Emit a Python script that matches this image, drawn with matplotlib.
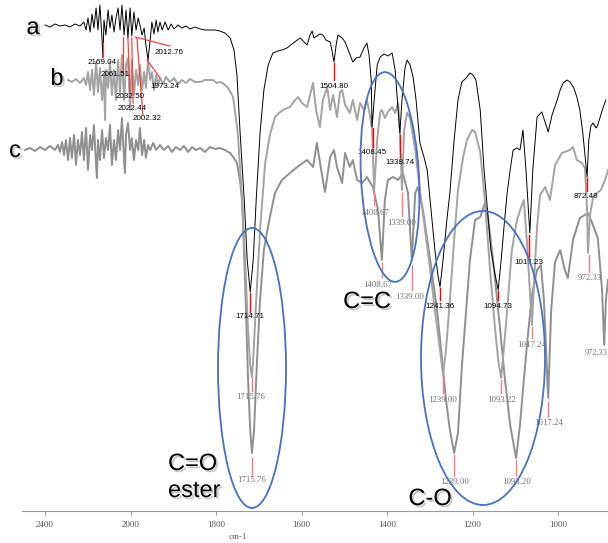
import numpy as np
import matplotlib
matplotlib.use("Agg")
import matplotlib.pyplot as plt
import matplotlib.patheffects as pe
from matplotlib.patches import Ellipse

# =========================
# DATA (wavenumber, depth below top of the plot)
# =========================
spec_a = [
    (2400, 25), (2377, 27), (2353, 24), (2330, 26), (2306, 25), (2283, 27), (2260, 24), (2236, 26),
    (2218, 22), (2208, 30), (2199, 18), (2189, 32), (2180, 14), (2171, 28), (2161, 8), (2152, 30),
    (2143, 5), (2133, 40), (2129, 58), (2124, 20), (2115, 35), (2105, 10), (2096, 28), (2087, 15),
    (2077, 32), (2068, 18), (2058, 8), (2049, 30), (2040, 5), (2030, 35), (2021, 10), (2012, 38),
    (2002, 8), (1997, 36), (1992, 12), (1987, 30), (1982, 18), (1978, 25), (1973, 35), (1968, 28),
    (1964, 45), (1959, 60), (1954, 40), (1950, 22), (1945, 34), (1940, 20), (1936, 32), (1931, 22),
    (1926, 30), (1919, 22), (1912, 30), (1905, 24), (1898, 29), (1889, 25), (1880, 28), (1870, 26),
    (1861, 29), (1849, 27), (1837, 29), (1826, 30), (1814, 30), (1802, 30), (1791, 31), (1779, 33),
    (1767, 38), (1758, 50), (1751, 75), (1744, 130), (1734, 200), (1727, 260), (1720, 292),
    (1713, 260), (1706, 200), (1697, 133), (1688, 90), (1678, 65), (1667, 53), (1655, 51),
    (1646, 50), (1634, 48), (1622, 44), (1610, 40), (1603, 38), (1594, 42), (1587, 45), (1580, 35),
    (1575, 31), (1571, 38), (1564, 36), (1557, 34), (1550, 35), (1543, 40), (1533, 42), (1529, 50),
    (1524, 62), (1519, 45), (1515, 35), (1505, 38), (1498, 42), (1489, 52), (1480, 62), (1472, 58),
    (1463, 57), (1454, 48), (1447, 43), (1442, 55), (1437, 80), (1435, 127), (1430, 100),
    (1423, 65), (1416, 57), (1407, 54), (1398, 56), (1388, 53), (1381, 70), (1374, 110),
    (1370, 133), (1365, 100), (1358, 68), (1353, 60), (1346, 65), (1339, 77), (1332, 100),
    (1323, 143), (1313, 158), (1306, 170), (1297, 210), (1288, 250), (1281, 275), (1276, 287),
    (1269, 260), (1260, 220), (1253, 193), (1243, 140), (1234, 100), (1225, 82), (1215, 78),
    (1206, 73), (1199, 75), (1192, 80), (1182, 110), (1173, 170), (1164, 215), (1157, 250),
    (1147, 275), (1140, 290), (1133, 260), (1126, 225), (1119, 193), (1112, 170), (1105, 150),
    (1096, 148), (1089, 150), (1082, 130), (1075, 170), (1066, 233), (1059, 170), (1049, 117),
    (1038, 112), (1028, 125), (1023, 132), (1014, 115), (1002, 100), (995, 90), (988, 83),
    (979, 80), (972, 82), (963, 88), (956, 97), (949, 110), (942, 133), (937, 155), (932, 177),
    (928, 140), (923, 126), (918, 123), (911, 128), (907, 125), (900, 115), (895, 108), (888, 100),
]

spec_b = [
    (2292, 80), (2274, 82), (2255, 79), (2236, 83), (2218, 78), (2208, 85), (2199, 72), (2189, 90),
    (2180, 70), (2171, 95), (2161, 62), (2152, 92), (2143, 68), (2133, 100), (2124, 75), (2119, 120),
    (2115, 70), (2105, 88), (2096, 62), (2087, 95), (2077, 70), (2068, 100), (2058, 60), (2049, 92),
    (2040, 55), (2030, 100), (2021, 65), (2012, 58), (2002, 110), (1997, 60), (1992, 95), (1987, 70),
    (1982, 85), (1978, 65), (1973, 90), (1968, 72), (1964, 88), (1959, 60), (1954, 80), (1950, 72),
    (1945, 90), (1940, 75), (1936, 85), (1931, 78), (1924, 84), (1917, 77), (1908, 82), (1898, 78),
    (1889, 84), (1880, 80), (1870, 83), (1861, 79), (1849, 82), (1837, 82), (1826, 80), (1814, 80),
    (1807, 80), (1798, 83), (1791, 82), (1784, 83), (1772, 88), (1760, 97), (1749, 133), (1739, 200),
    (1732, 260), (1725, 330), (1720, 365), (1716, 377), (1713, 360), (1706, 300), (1697, 230),
    (1685, 163), (1674, 135), (1662, 117), (1650, 112), (1639, 109), (1627, 107), (1615, 100),
    (1608, 97), (1599, 103), (1587, 107), (1573, 83), (1566, 110), (1557, 127), (1550, 100),
    (1540, 87), (1533, 110), (1526, 95), (1517, 117), (1510, 92), (1505, 90), (1498, 105),
    (1487, 113), (1480, 100), (1470, 120), (1463, 103), (1454, 110), (1447, 100), (1440, 115),
    (1435, 130), (1430, 190), (1423, 140), (1416, 112), (1412, 110), (1405, 118), (1398, 112),
    (1388, 107), (1381, 113), (1374, 103), (1370, 130), (1365, 190), (1360, 130), (1353, 113),
    (1346, 118), (1334, 150), (1323, 190), (1311, 230), (1299, 270), (1288, 310), (1276, 350),
    (1269, 375), (1262, 350), (1253, 300), (1243, 240), (1234, 190), (1222, 157), (1213, 140),
    (1201, 130), (1194, 132), (1182, 152), (1171, 200), (1159, 270), (1147, 330), (1140, 360),
    (1133, 378), (1126, 345), (1119, 310), (1108, 250), (1096, 220), (1087, 208), (1080, 200),
    (1073, 240), (1066, 290), (1061, 325), (1056, 280), (1049, 227), (1042, 195), (1030, 187),
    (1019, 200), (1007, 165), (991, 153), (972, 150), (965, 147), (956, 160), (944, 163),
    (937, 168), (932, 210), (930, 253), (925, 215), (918, 197), (909, 193), (900, 190),
    (890, 180), (883, 170),
]

spec_c = [
    (2494, 150), (2470, 148), (2447, 151), (2423, 147), (2400, 150), (2377, 146), (2353, 150),
    (2339, 145), (2330, 152), (2320, 142), (2311, 155), (2302, 140), (2292, 160), (2283, 138),
    (2274, 158), (2264, 135), (2255, 165), (2246, 140), (2236, 155), (2227, 132), (2218, 160),
    (2208, 128), (2199, 170), (2189, 135), (2180, 150), (2171, 125), (2161, 165), (2157, 178),
    (2152, 140), (2143, 160), (2133, 130), (2124, 158), (2115, 138), (2105, 150), (2096, 125),
    (2087, 165), (2077, 140), (2068, 160), (2058, 130), (2049, 150), (2040, 118), (2030, 160),
    (2026, 173), (2021, 135), (2012, 123), (2002, 150), (1997, 138), (1992, 160), (1987, 140),
    (1982, 150), (1978, 128), (1973, 155), (1968, 140), (1964, 158), (1959, 145), (1954, 150),
    (1947, 143), (1940, 150), (1931, 145), (1922, 150), (1912, 146), (1903, 152), (1894, 147),
    (1884, 150), (1875, 146), (1865, 152), (1856, 147), (1847, 150), (1837, 148), (1826, 152),
    (1814, 147), (1802, 149), (1791, 148), (1779, 150), (1767, 153), (1758, 158), (1751, 163),
    (1744, 180), (1739, 200), (1732, 280), (1725, 380), (1720, 430), (1716, 453), (1711, 430),
    (1704, 360), (1697, 300), (1688, 250), (1681, 233), (1674, 217), (1662, 193), (1646, 180),
    (1627, 173), (1610, 167), (1587, 160), (1573, 167), (1564, 143), (1554, 170), (1545, 192),
    (1533, 157), (1524, 150), (1517, 167), (1505, 183), (1498, 153), (1487, 167), (1480, 160),
    (1470, 180), (1458, 183), (1447, 177), (1433, 187), (1421, 210), (1412, 260), (1405, 200),
    (1398, 180), (1386, 177), (1374, 180), (1363, 173), (1351, 193), (1342, 260), (1334, 193),
    (1328, 187), (1316, 210), (1299, 260), (1283, 310), (1271, 360), (1262, 400), (1253, 430),
    (1243, 453), (1234, 433), (1225, 367), (1213, 300), (1206, 260), (1194, 220), (1182, 217),
    (1171, 203), (1164, 217), (1152, 260), (1136, 327), (1124, 380), (1112, 425), (1098, 458),
    (1089, 425), (1080, 380), (1070, 333), (1061, 295), (1049, 270), (1040, 265), (1033, 300),
    (1023, 398), (1016, 310), (1007, 262), (995, 250), (984, 270), (977, 278), (965, 240),
    (949, 218), (930, 213), (921, 222), (907, 238), (897, 290), (892, 345), (888, 300), (883, 280),
]

# peak picks: text, wavenumber of the red marker, marker top, marker bottom, label x, label y
peaks_a = [
    ("1504.80", 1524, 63, 80, 1524, 86),
    ("1408.45", 1433, 128, 147, 1435, 152),
    ("1338.74", 1370, 135, 157, 1370, 163),
    ("1714.71", 1720, 293, 312, 1720, 317),
    ("1241.36", 1276, 288, 300, 1276, 306),
    ("1094.73", 1140, 291, 300, 1140, 306),
    ("1017.23", 1068, 235, 257, 1068, 262),
    ("872.48", 932, 178, 191, 934, 196),
]
peaks_b = [
    ("1715.76", 1716, 378, 391, 1718, 397),
    ("1408.67", 1430, 192, 205, 1428, 213),
    ("1339.00", 1365, 193, 216, 1365, 223),
    ("1239.00", 1269, 377, 393, 1269, 400),
    ("1093.22", 1133, 380, 393, 1133, 400),
    ("1017.24", 1061, 327, 338, 1061, 345),
    ("972.33", 928, 255, 272, 925, 278),
]
peaks_c = [
    ("1715.76", 1716, 458, 476, 1716, 480),
    ("1408.67", 1412, 263, 277, 1423, 285),
    ("1339.00", 1342, 265, 290, 1346, 297),
    ("1239.00", 1243, 455, 476, 1243, 482),
    ("1093.20", 1098, 460, 476, 1098, 482),
    ("1017.24", 1023, 402, 417, 1021, 423),
]
# crowded picks in the noisy 2000-2200 region (slanted leader lines)
noise_labels = ["2169.04", "2061.51", "2032.50", "2022.44", "2002.32", "2012.76", "1973.24"]
noise_lead_x = [(2129, 2129), (2035, 2035), (2012, 2002), (1997, 1994), (1985, 1971), (1989, 1908), (1961, 1931)]
noise_lead_y = [(43, 57), (37, 72), (38, 92), (38, 103), (38, 115), (37, 46), (60, 78)]
noise_text_x = [2133, 2072, 2002, 1997, 1961, 1910, 1919]
noise_text_y = [63, 75, 97, 108, 119, 52, 86]

ticks = [2400, 2000, 1800, 1600, 1400, 1200, 1000]


# wavenumber axis is compressed 2x above 2000 cm-1
def fwd(w):
    w = np.asarray(w, dtype=float)
    return np.where(w >= 2000, (w - 2000) / 2.0, w - 2000)


def inv(u):
    u = np.asarray(u, dtype=float)
    return np.where(u >= 0, 2000 + 2.0 * u, 2000 + u)


# =========================
# FIGURE
# =========================
fig = plt.figure(figsize=(6.08, 5.43), dpi=100)
ax = fig.add_axes([0, 32 / 543, 1, 511 / 543])
ax.set_xscale("function", functions=(fwd, inv))
ax.set_xlim(2610.5, 883.1)
ax.set_ylim(511, 0)

for pts, col, lw in [(spec_c, "#8f8f8f", 1.4), (spec_b, "#a3a3a3", 1.4), (spec_a, "black", 0.7)]:
    wn, val = zip(*pts)
    ax.plot(wn, val, color=col, lw=lw, solid_joinstyle="round")

sans = "Liberation Sans"
serif = "Liberation Serif"

for txt, w, y0, y1, tx, ty in peaks_a:
    ax.plot([w, w], [y0, y1], color="red", lw=1.0)
    ax.text(tx, ty, txt, fontsize=5.8, family=sans, ha="center", va="center", color="black")
for peaks in (peaks_b, peaks_c):
    for txt, w, y0, y1, tx, ty in peaks:
        ax.plot([w, w], [y0, y1], color="#ff7a7a", lw=1.0)
        ax.text(tx, ty, txt, fontsize=6.3, family=serif, ha="center", va="center", color="#6e6e6e")
# last pick of trace c sits at the right edge
ax.text(883.6, 353, "972.33", fontsize=6.0, family=serif, ha="right", va="center", color="#6e6e6e")

for lab, lx, ly, tx, ty in zip(noise_labels, noise_lead_x, noise_lead_y, noise_text_x, noise_text_y):
    ax.plot(lx, ly, color="#ff4040", lw=0.9)
    ax.text(tx, ty, lab, fontsize=5.8, family=sans, ha="center", va="center", color="black")

# axis styling
for s in ["top", "left", "right"]:
    ax.spines[s].set_visible(False)
ax.spines["bottom"].set_color("#9a9a9a")
ax.spines["bottom"].set_bounds(2508, 883)
ax.set_yticks([])
ax.set_xticks(ticks)
ax.set_xticklabels([str(t) for t in ticks], family=serif, fontsize=6.5, color="#555555")
ax.tick_params(axis="x", direction="out", length=3, width=0.8, color="#9a9a9a", pad=4)
ax.patch.set_alpha(0)

# =========================
# ANNOTATIONS (pixel overlay)
# =========================
ov = fig.add_axes([0, 0, 1, 1])
ov.set_xlim(0, 608)
ov.set_ylim(543, 0)
ov.axis("off")
ov.patch.set_alpha(0)

blue = "#4472C4"
ov.add_patch(Ellipse((252, 368), 68, 280, fill=False, ec=blue, lw=1.3))
ov.add_patch(Ellipse((390, 177), 58, 210, angle=-3, fill=False, ec=blue, lw=1.3))
ov.add_patch(Ellipse((483, 358), 124, 294, fill=False, ec=blue, lw=1.3))

shadow = [pe.SimplePatchShadow(offset=(1.5, -1.5), shadow_rgbFace="#888888", alpha=0.45), pe.Normal()]
big = dict(family=sans, fontsize=17, color="black", path_effects=shadow, va="center")
ov.text(33, 28, "a", ha="center", **big)
ov.text(57, 79, "b", ha="center", **big)
ov.text(15, 151, "c", ha="center", **big)
ov.text(367, 302, "C=C", ha="center", **big)
ov.text(168, 464, "C=O", ha="left", **big)
ov.text(168, 491, "ester", ha="left", **big)
ov.text(430, 499, "C-O", ha="center", **big)
ov.text(238, 537, "cm-1", ha="center", va="center", family=serif, fontsize=6.5, color="#555555")

fig.savefig("out.png", dpi=100)
